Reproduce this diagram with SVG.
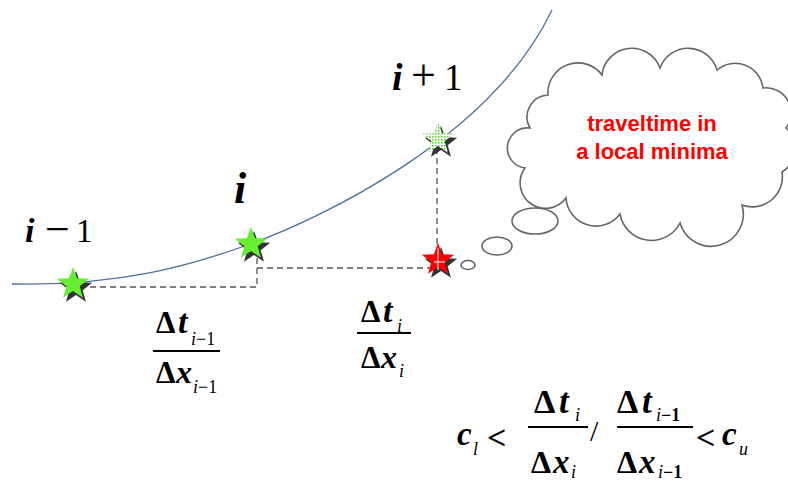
<svg xmlns="http://www.w3.org/2000/svg" width="788" height="483" viewBox="0 0 788 483">
<defs>
<style>
.m{font-family:"Liberation Serif","Times New Roman",serif;fill:#000}
.bi{font-weight:bold;font-style:italic}
.b{font-weight:bold}
.it{font-style:italic}
.s{font-size:18px}
.dash{fill:none;stroke:#555;stroke-width:1.3;stroke-dasharray:6 4}
.fr{stroke:#000;stroke-width:1.8}
.cl{fill:#fff;stroke:#666;stroke-width:1.6}
.red{font-family:"Liberation Sans",Arial,sans-serif;font-weight:bold;font-size:22px;fill:#ff0000;text-anchor:middle}
</style>
<path id="star" d="M0,-17 L4.11,-5.66 L16.17,-5.25 L6.66,2.16 L9.99,13.75 L0,7 L-9.99,13.75 L-6.66,2.16 L-16.17,-5.25 L-4.11,-5.66 Z"/>
<pattern id="dots" width="3" height="3" patternUnits="userSpaceOnUse">
<rect width="3" height="3" fill="#fff"/>
<rect width="1.6" height="1.6" fill="#44dd22"/>
</pattern>
</defs>
<rect width="788" height="483" fill="#fff"/>

<g id="connectors">
<path d="M12,284 C120,286 190,266 253,243 C316,220 490,140 552,10" fill="none" stroke="#4a6f99" stroke-width="1.3"/>
<path class="dash" d="M80,287 H257 V250"/>
<path class="dash" d="M257,268 H430"/>
<path class="dash" d="M437,148 V255"/>
</g>

<g id="star-im1">
<use href="#star" x="76" y="288" fill="#333"/>
<use href="#star" x="73" y="284" fill="#66ee33"/>
</g>
<g id="star-i">
<use href="#star" x="254" y="248" fill="#333"/>
<use href="#star" x="251" y="244" fill="#66ee33"/>
</g>
<g id="star-ip1">
<use href="#star" x="441" y="143" fill="#333"/>
<use href="#star" x="438" y="139" fill="url(#dots)"/>
</g>
<g id="star-red">
<use href="#star" x="441" y="264" fill="#333"/>
<use href="#star" x="438" y="260" fill="#ff0000"/>
<path d="M438,248 V270 M434,262 H445" stroke="#fff" stroke-width="1"/>
</g>

<g id="label-im1">
<text class="m bi" x="25" y="242" font-size="34">i</text>
<text class="m" x="45" y="244" font-size="44">−</text>
<text class="m" x="76" y="242" font-size="33">1</text>
</g>
<g id="label-i">
<text class="m bi" x="234" y="203" font-size="44">i</text>
</g>
<g id="label-ip1">
<text class="m bi" x="392" y="90" font-size="38">i</text>
<text class="m" x="411" y="90" font-size="44">+</text>
<text class="m" x="444" y="90" font-size="37">1</text>
</g>

<g id="frac1">
<text class="m b" x="156" y="333" font-size="31">Δ</text>
<text class="m bi" x="178" y="333" font-size="34">t</text>
<text class="m s" x="191" y="345"><tspan class="it">i</tspan>−1</text>
<line class="fr" x1="153" y1="351" x2="220" y2="351"/>
<text class="m b" x="156" y="383" font-size="31">Δ</text>
<text class="m bi" x="176" y="383" font-size="32">x</text>
<text class="m s" x="193" y="393"><tspan class="it">i</tspan>−1</text>
</g>

<g id="frac2">
<text class="m b" x="361" y="322" font-size="31">Δ</text>
<text class="m bi" x="383" y="322" font-size="34">t</text>
<text class="m s it" x="397" y="332">i</text>
<line class="fr" x1="357" y1="333" x2="411" y2="333"/>
<text class="m b" x="361" y="368" font-size="31">Δ</text>
<text class="m bi" x="381" y="368" font-size="32">x</text>
<text class="m s it" x="399" y="377">i</text>
</g>

<g id="formula">
<text class="m bi" x="457" y="445" font-size="33">c</text>
<text class="m s it" x="473" y="455">l</text>
<text class="m b" x="487" y="449" font-size="34">&lt;</text>
<text class="m b" x="534" y="413" font-size="34">Δ</text>
<text class="m bi" x="559" y="413" font-size="35">t</text>
<text class="m s it" x="575" y="421">i</text>
<line class="fr" x1="528" y1="427" x2="588" y2="427"/>
<text class="m b" x="531" y="473" font-size="32">Δ</text>
<text class="m bi" x="553" y="473" font-size="33">x</text>
<text class="m s it" x="571" y="478">i</text>
<text class="m" x="590" y="441" font-size="30">/</text>
<text class="m b" x="617" y="413" font-size="34">Δ</text>
<text class="m bi" x="642" y="413" font-size="35">t</text>
<text class="m s" x="656" y="421"><tspan class="it">i</tspan><tspan class="b">−1</tspan></text>
<line class="fr" x1="617" y1="427" x2="693" y2="427"/>
<text class="m b" x="617" y="473" font-size="32">Δ</text>
<text class="m bi" x="639" y="473" font-size="33">x</text>
<text class="m s" x="658" y="478"><tspan class="it">i</tspan><tspan class="b">−1</tspan></text>
<text class="m b" x="696" y="449" font-size="34">&lt;</text>
<text class="m bi" x="722" y="445" font-size="33">c</text>
<text class="m s it" x="739" y="455">u</text>
</g>

<g id="thought">
<path class="cl" d="M530,128 A22,22 0 0 1 548,95 A30,30 0 0 1 602,75 A30,30 0 0 1 660,68 A30,30 0 0 1 717,70 A28,28 0 0 1 763,88 A25,25 0 0 1 786,128 A28,28 0 0 1 782,172 A30,30 0 0 1 742,205 A32,32 0 0 1 680,223 A32,32 0 0 1 620,214 A30,30 0 0 1 566,198 A22,22 0 0 1 525,168 A20,20 0 0 1 530,128 Z"/>
<text class="red" x="652" y="131">traveltime in</text>
<text class="red" x="652" y="159">a local minima</text>
<ellipse class="cl" cx="535" cy="221" rx="23" ry="13"/>
<ellipse class="cl" cx="497" cy="246" rx="15" ry="9"/>
<ellipse class="cl" cx="468" cy="265" rx="7" ry="4.5"/>
</g>
</svg>
